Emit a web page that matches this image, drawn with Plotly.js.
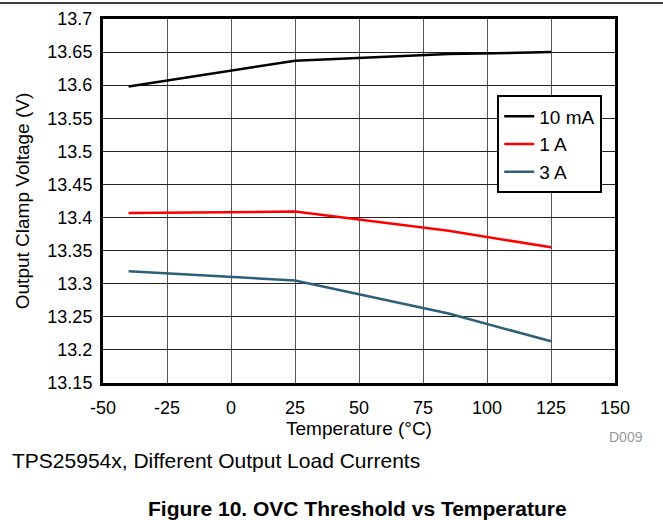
<!DOCTYPE html>
<html>
<head>
<meta charset="utf-8">
<script src="https://cdn.plot.ly/plotly-3.0.1.min.js"></script>
<style>html,body{margin:0;padding:0;background:#fff;}#chart{width:663px;height:520px;}</style>
</head>
<body>
<div id="chart"></div>
<script>
const seriesNames = ["10 mA", "1 A", "3 A"];
const seriesColors = ["#000000", "#ff0000", "#2e5f7a"];
const temps = [-40, 25, 85, 125];
const v10mA = [13.598, 13.637, 13.647, 13.650];
const v1A = [13.407, 13.409, 13.380, 13.355];
const v3A = [13.319, 13.305, 13.255, 13.213];
const xTickVals = [-50, -25, 0, 25, 50, 75, 100, 125, 150];
const yTickVals = [13.15, 13.2, 13.25, 13.3, 13.35, 13.4, 13.45, 13.5, 13.55, 13.6, 13.65, 13.7];
const yTickText = ["13.15", "13.2", "13.25", "13.3", "13.35", "13.4", "13.45", "13.5", "13.55", "13.6", "13.65", "13.7"];

const allValues = [v10mA, v1A, v3A];
const font = "Liberation Sans, Arial, sans-serif";

const traces = allValues.map((vals, i) => ({
  x: temps, y: vals, type: "scatter", mode: "lines",
  name: seriesNames[i],
  line: {color: seriesColors[i], width: 2.5}
}));

const layout = {
  width: 663, height: 520,
  margin: {l: 103, r: 48, t: 19, b: 137},
  paper_bgcolor: "#fff", plot_bgcolor: "#fff",
  font: {family: font, size: 18, color: "#000"},
  showlegend: true,
  legend: {
    x: 0.77, y: 0.79, xanchor: "left", yanchor: "top",
    bordercolor: "#000", borderwidth: 2, bgcolor: "#fff",
    font: {family: font, size: 19, color: "#000"},
    tracegroupgap: 0, itemwidth: 30
  },
  xaxis: {
    range: [-50, 150], tickvals: xTickVals, ticktext: xTickVals.map(String),
    showgrid: true, gridcolor: "#555", gridwidth: 1,
    showline: true, mirror: true, linecolor: "#000", linewidth: 3,
    zeroline: false, ticks: "", ticklabelstandoff: 6,
    tickfont: {family: font, size: 18},
    title: {text: "Temperature (°C)", font: {family: font, size: 19}, standoff: 6}
  },
  yaxis: {
    range: [13.15, 13.7], tickvals: yTickVals, ticktext: yTickText,
    showgrid: true, gridcolor: "#222", gridwidth: 1,
    showline: true, mirror: true, linecolor: "#000", linewidth: 3,
    zeroline: false, ticks: "", ticklabelstandoff: 4,
    tickfont: {family: font, size: 18},
    title: {text: "Output Clamp Voltage (V)", font: {family: font, size: 19}, standoff: 13}
  },
  shapes: [
    {type: "line", xref: "paper", yref: "paper", x0: -103/512, x1: 560/512, y0: 1 + 16/364, y1: 1 + 16/364,
     line: {color: "#000", width: 1.5}}
  ],
  annotations: [
    {text: "D009", xref: "paper", yref: "paper", x: 1 + 30/512, y: -54/364, xanchor: "right", yanchor: "middle",
     showarrow: false, font: {family: font, size: 14, color: "#999"}},
    {text: "TPS25954x, Different Output Load Currents", xref: "paper", yref: "paper",
     x: -93/512, y: -78/364, xanchor: "left", yanchor: "middle", showarrow: false,
     font: {family: font, size: 21, color: "#000"}},
    {text: "<b>Figure 10. OVC Threshold vs Temperature</b>", xref: "paper", yref: "paper",
     x: 254/512, y: -125/364, xanchor: "center", yanchor: "middle", showarrow: false,
     font: {family: font, size: 21, color: "#000"}}
  ]
};

Plotly.newPlot("chart", traces, layout, {displayModeBar: false, staticPlot: true});
</script>
</body>
</html>
